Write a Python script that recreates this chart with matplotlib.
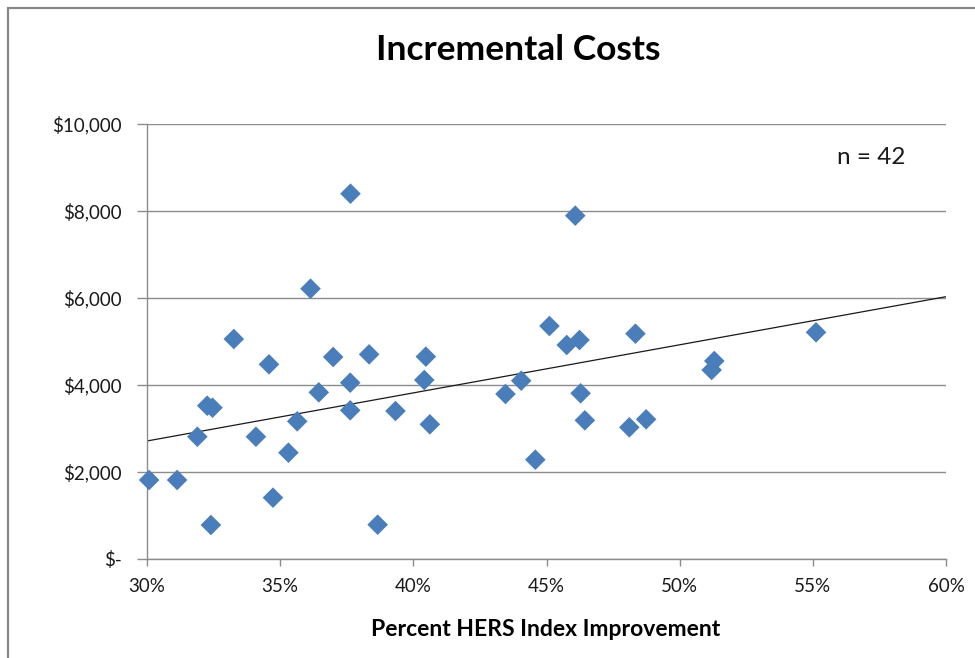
"""
Incremental Costs vs Percent HERS Index Improvement (scatter + linear trend).
"""

import matplotlib
matplotlib.use("Agg")
import matplotlib.pyplot as plt
from matplotlib.patches import Rectangle
from matplotlib.ticker import FuncFormatter, MultipleLocator

plt.rcParams["font.family"] = ["Lato", "DejaVu Sans"]

# percent HERS index improvement (fraction) and incremental cost ($)
hers_improvement = [
    0.3008, 0.3113, 0.3240, 0.3189, 0.3226, 0.3246, 0.3326, 0.3409, 0.3458, 0.3473,
    0.3531, 0.3564, 0.3614, 0.3645, 0.3764, 0.3699, 0.3763, 0.3763, 0.3834, 0.3866,
    0.3933, 0.4041, 0.4047, 0.4062, 0.4346, 0.4405, 0.4458, 0.4511, 0.4576, 0.4624,
    0.4608, 0.4628, 0.4644, 0.4811, 0.4874, 0.4834, 0.5130, 0.5120, 0.5512,
]
incremental_cost = [
    1816, 1816, 782, 2811, 3524, 3478, 5057, 2811, 4475, 1410,
    2444, 3165, 6214, 3831, 8398, 4644, 4053, 3418, 4705, 789,
    3402, 4115, 4652, 3096, 3793, 4099, 2283, 5356, 4920, 5034,
    7893, 3809, 3188, 3027, 3211, 5180, 4552, 4345, 5211,
]

# linear trend line as drawn on the chart
trend_x = [0.30, 0.60]
trend_y = [2713, 6030]

n_label = "n = 42"


def money(v, _pos):
    if abs(v) < 1e-9:
        return "$-"
    return f"${v:,.0f}"


def main() -> None:
    fig = plt.figure(figsize=(9.75, 6.58), dpi=100)
    ax = fig.add_axes([147 / 975, 99 / 658, 799 / 975, 435 / 658])

    # outer chart border (cropped on right/bottom in the source)
    fig.patches.append(
        Rectangle((8 / 975, -0.1), 1.2, 1.1 - 7.5 / 658, transform=fig.transFigure,
                  fill=False, ec="#898989", lw=1.6)
    )

    grey = "#8c8c8c"
    ax.set_xlim(0.30, 0.60)
    ax.set_ylim(0, 10000)
    ax.xaxis.set_major_locator(MultipleLocator(0.05))
    ax.yaxis.set_major_locator(MultipleLocator(2000))
    ax.xaxis.set_major_formatter(FuncFormatter(lambda v, p: f"{v * 100:.0f}%"))
    ax.yaxis.set_major_formatter(FuncFormatter(money))

    ax.grid(axis="y", color=grey, lw=1.0)
    ax.set_axisbelow(True)
    for side in ("top", "right"):
        ax.spines[side].set_visible(False)
    for side in ("left", "bottom"):
        ax.spines[side].set_color(grey)
        ax.spines[side].set_linewidth(1.0)

    ax.tick_params(axis="y", length=7, width=1.0, color=grey, pad=11, labelsize=13.5, labelcolor="#1a1a1a")
    ax.tick_params(axis="x", length=5, width=1.0, color=grey, pad=9, labelsize=13.5, labelcolor="#1a1a1a")

    ax.plot(trend_x, trend_y, color="#1a1a1a", lw=0.9, zorder=2)
    ax.scatter(hers_improvement, incremental_cost, marker="D", s=110, color="#4a7ebb",
               edgecolors="none", zorder=3, clip_on=False)

    ax.text(871 / 975, 1 - 157 / 658, n_label, transform=fig.transFigure,
            ha="center", va="center", fontsize=17.5, color="#1a1a1a")

    fig.text(518 / 975, 1 - 50 / 658, "Incremental Costs", ha="center", va="center",
             fontsize=25.5, fontweight="bold", color="black")
    fig.text(546 / 975, 1 - 630 / 658, "Percent HERS Index Improvement", ha="center", va="center",
             fontsize=16.5, fontweight="bold", color="black")

    fig.savefig("out.png", dpi=100)
    plt.close(fig)


if __name__ == "__main__":
    main()
